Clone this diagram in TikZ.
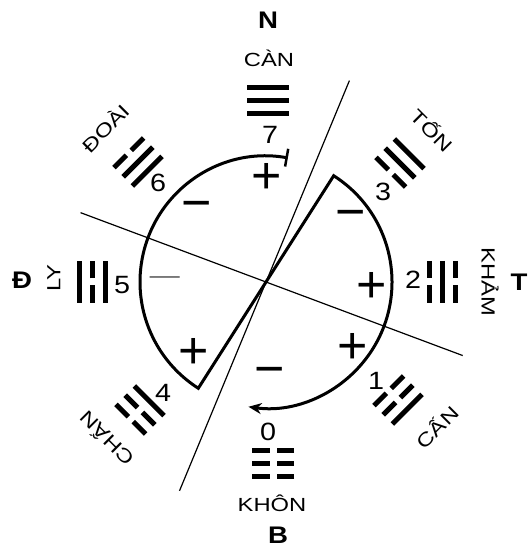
\documentclass[tikz,border=0pt]{standalone}
\usepackage{fontspec}
\setmainfont[FakeStretch=1.15]{Liberation Sans}
\newfontfamily\signfont{Liberation Sans}
\newfontfamily\namefont[FakeStretch=1.25]{Liberation Sans}
\usetikzlibrary{arrows.meta}

%% one line of a trigram: #1 = offset, #2 = 1 solid / 0 broken
\newcommand{\yaoline}[2]{%
  \ifnum#2=1
    \draw[yao] (-21,#1) -- (21,#1);
  \else
    \draw[yao] (-21,#1) -- (-3.5,#1);
    \draw[yao] (3.5,#1) -- (21,#1);
  \fi}
%% trigram: centre, rotation, inner / middle / outer line
\newcommand{\trigram}[5]{%
  \begin{scope}[shift={#1}, rotate=#2]
    \yaoline{-13}{#3}\yaoline{0}{#4}\yaoline{13}{#5}
  \end{scope}}

\begin{document}
\begin{tikzpicture}[
  x=1pt, y=1pt,
  %% Line styles
  ring/.style ={line width=3pt, line join=miter},
  axis/.style ={line width=1.2pt},
  yao/.style  ={line width=5pt},
  %% Text styles
  gua/.style  ={inner sep=0pt, text height=13pt, text depth=0pt,
                font=\namefont\fontsize{19}{19}\selectfont},
  num/.style  ={inner sep=0pt, text height=18pt, text depth=0pt,
                font=\fontsize{25}{25}\selectfont},
  dir/.style  ={inner sep=0pt, text height=17pt, text depth=0pt,
                font=\fontsize{24}{24}\selectfont\bfseries},
  sgn/.style  ={inner sep=0pt, font=\signfont\fontsize{52}{52}\selectfont},
  thinsgn/.style ={inner sep=0pt, font=\fontfamily{lmr}\fontsize{64}{64}\selectfont}
]
\useasboundingbox (-266,-266) rectangle (262,282);

%% ── AXES ───────────────────────────────────────────────────────
\coordinate (axAtop) at (67.5:218);
\coordinate (axAbot) at (247.5:226);
\coordinate (axBlft) at (159.5:198);
\coordinate (axBrgt) at (-20.5:210);
\draw[axis] (axAtop) -- (axAbot);
\draw[axis] (axBlft) -- (axBrgt);

%% ── RING WITH DIAMETER ─────────────────────────────────────────
\coordinate (ringTop) at (80:126);
\draw[ring, {Bar[width=18pt, line width=2.5pt]}-{Stealth[length=13pt, width=11pt]}]
  (ringTop) arc[start angle=80, end angle=237.5, radius=126]
  -- (57.5:126) arc[start angle=57.5, end angle=-98, radius=126];

%% ── SIGNS ──────────────────────────────────────────────────────
\node[sgn]     (s7) at (1,104)    {+};
\node[sgn]     (s6) at (-69,71)   {−};
\node[thinsgn] (s5) at (-101,-4)  {–};
\node[sgn]     (s4) at (-72,-71)  {+};
\node[sgn]     (s0) at (4,-95)    {−};
\node[sgn]     (s1) at (87,-66)   {+};
\node[sgn]     (s2) at (106,-5)   {+};
\node[sgn]     (s3) at (85,62)    {−};

%% ── NUMBERS ────────────────────────────────────────────────────
\node[num] (n7) at (4,147)     {7};
\node[num] (n6) at (-108,99)   {6};
\node[num] (n5) at (-144,-3)   {5};
\node[num] (n4) at (-103,-110) {4};
\node[num] (n0) at (2,-149)    {0};
\node[num] (n1) at (110,-98)   {1};
\node[num] (n2) at (147,2)     {2};
\node[num] (n3) at (117,90)    {3};

%% ── TRIGRAMS (inner line first) ────────────────────────────────
\trigram{(2,181)}{0}{1}{1}{1}        % Can
\trigram{(-128,120)}{45}{1}{1}{0}    % Doai
\trigram{(-173,0)}{90}{1}{0}{1}      % Ly
\trigram{(-126,-128)}{135}{1}{0}{0}  % Chan
\trigram{(7,-181)}{180}{0}{0}{0}     % Khon
\trigram{(132,-118)}{225}{0}{0}{1}   % Can (mountain)
\trigram{(176,0)}{-90}{0}{1}{0}      % Kham
\trigram{(134,119)}{-45}{0}{1}{1}    % Ton

%% ── NAMES ──────────────────────────────────────────────────────
\node[gua]              (can)  at (3,222)     {CÀN};
\node[gua, rotate=45]   (doai) at (-160,153)  {ĐOÀI};
\node[gua, rotate=90]   (ly)   at (-212,4)    {LY};
\node[gua, rotate=135]  (chan) at (-159,-156) {CHẤN};
\node[gua]              (khon) at (6,-223)    {KHÔN};
\node[gua, rotate=45]   (cann) at (172,-146)  {CẤN};
\node[gua, rotate=-90]  (kham) at (222,0)     {KHẢM};
\node[gua, rotate=-45]  (ton)  at (165,151)   {TỐN};

%% ── DIRECTIONS ─────────────────────────────────────────────────
\node[dir] (nam)  at (2,262)    {N};
\node[dir] (bac)  at (12,-253)  {B};
\node[dir] (dong) at (-244,2)   {Đ};
\node[dir] (tay)  at (253,0)    {T};

\end{tikzpicture}
\end{document}
